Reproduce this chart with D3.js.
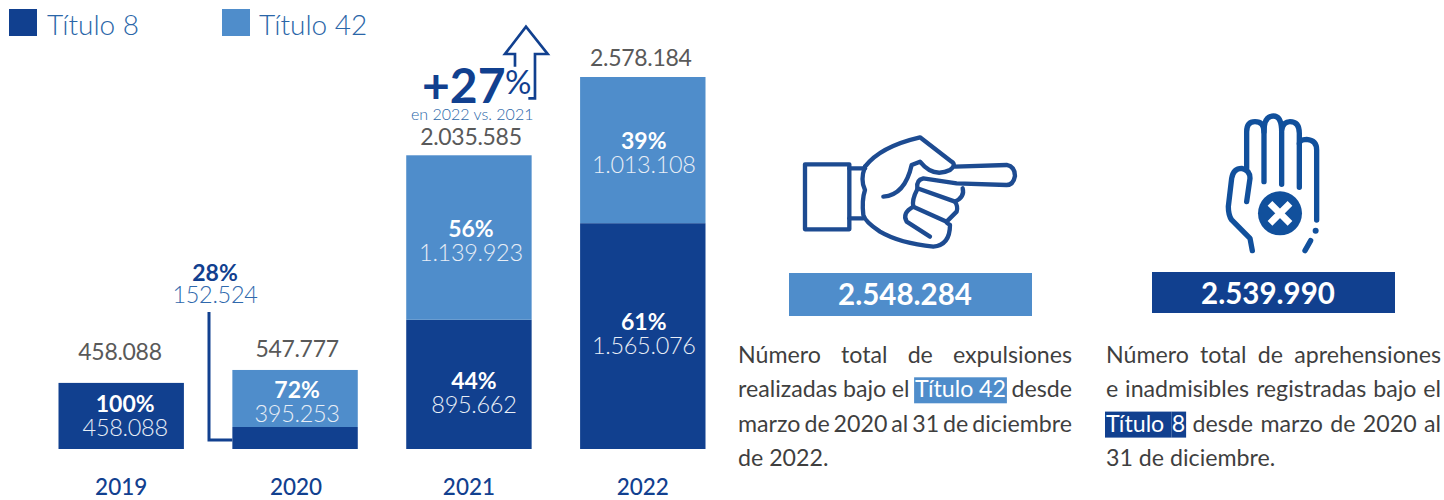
<!DOCTYPE html>
<html><head><meta charset="utf-8">
<script src="https://cdn.jsdelivr.net/npm/d3@7/dist/d3.min.js"></script>
<style>html,body{margin:0;padding:0;background:#fff}svg{display:block}text{font-family:Lato,"Open Sans",sans-serif}</style>
</head><body><svg id="c" width="1444" height="500"></svg>
<script>
const years=["2019","2020","2021","2022"];
const titulo8=[458088,152524,895662,1565076];
const titulo42=[0,395253,1139923,1013108];
const totals=[458088,547777,2035585,2578184];
const pct8=["100%","28%","44%","61%"];
const pct42=["","72%","56%","39%"];
const legendNames=["Título 8","Título 42"];
const label8Shift=[-1,0,8,-3];
const label42Shift=[0,3,2,2];
const label8Dx=[4,0,5,1];
const label42Dx=[0,2,2,1];
const totalLift=[23,13,10,11];
const totalDx=[0,2,2,-2];
const DARK="#11408f",LIGHT="#4f8dcb",GREY="#595959";
const fmt=v=>String(v).replace(/\B(?=(\d{3})+$)/g,".");
const svg=d3.select("#c");
const x=d3.scaleBand().domain(years).range([58.5,705.5]).paddingInner(0.2787).paddingOuter(0);
const y=d3.scaleLinear().domain([0,2578184]).range([449,77]);
const T=(sel,o)=>sel.append("text").text(o.t).attr("x",o.x).attr("y",o.y).attr("font-size",o.s).attr("fill",o.c||GREY).attr("font-weight",o.w||400).attr("text-anchor",o.a||"middle").attr("letter-spacing",o.ls||0);

// legend
[[9,47,DARK],[222,259,LIGHT]].forEach((l,i)=>{
  svg.append("rect").attr("x",l[0]).attr("y",9).attr("width",28).attr("height",27).attr("fill",l[2]);
  T(svg,{t:legendNames[i],x:l[1],y:35,s:28,c:"#2a66a8",w:300,a:"start"});
});
// connector
svg.append("path").attr("d",`M209,312V${(y(0)+y(titulo8[1]))/2+2}H${x("2020")}`).attr("fill","none").attr("stroke",DARK).attr("stroke-width",3);
// bars
const bw=x.bandwidth();
years.forEach((yr,i)=>{
  const X=x(yr);
  svg.append("rect").attr("x",X).attr("y",y(titulo8[i])).attr("width",bw).attr("height",y(0)-y(titulo8[i])).attr("fill",DARK);
  if(titulo42[i]) svg.append("rect").attr("x",X).attr("y",y(titulo8[i]+titulo42[i])).attr("width",bw).attr("height",y(titulo8[i])-y(titulo8[i]+titulo42[i])).attr("fill",LIGHT);
  const cx=X+bw/2;
  T(svg,{t:fmt(totals[i]),x:(i==0?120:cx+totalDx[i]),y:y(totals[i])-totalLift[i],s:23,ls:-0.3});
  T(svg,{t:yr,x:cx+(i==1?1:0),y:495,s:22.5,c:DARK,w:500});
  if(i!==1){
    const m=(y(0)+y(titulo8[i]))/2+label8Shift[i];
    T(svg,{t:pct8[i],x:cx+label8Dx[i],y:m-3,s:23,c:"#fff",w:700});
    T(svg,{t:fmt(titulo8[i]),x:cx+label8Dx[i],y:m+21,s:23.5,c:"#e8eef6",w:300,ls:-0.3});
  }
  if(titulo42[i]){
    const m=(y(titulo8[i])+y(titulo8[i]+titulo42[i]))/2+label42Shift[i];
    T(svg,{t:pct42[i],x:cx+label42Dx[i],y:m-3,s:23,c:"#fff",w:700});
    T(svg,{t:fmt(titulo42[i]),x:cx+label42Dx[i],y:m+21,s:23.5,c:"#e8eef6",w:300,ls:-0.3});
  }
});
T(svg,{t:pct8[1],x:215,y:281,s:23,c:DARK,w:700});
T(svg,{t:fmt(titulo8[1]),x:215,y:303,s:23.5,c:"#2f69ad",w:300,ls:-0.3});

// +27% callout
svg.append("path").attr("transform","translate(400,15) scale(.3333)").attr("d","M345,155V117H315L378,35L443,117H405V250H385").attr("fill","none").attr("stroke",DARK).attr("stroke-width",8);
T(svg,{t:"+27",x:422,y:103,s:48,c:DARK,w:700,a:"start"});
T(svg,{t:"%",x:505,y:94,s:33,c:DARK,w:400,a:"start"});
T(svg,{t:"en 2022 vs. 2021",x:411,y:120,s:16,c:"#2a66a8",w:300,a:"start"});

// pointing hand icon
const hand=svg.append("g").attr("transform","translate(780,100) scale(.3333)").attr("fill","none").attr("stroke","#1d4b91").attr("stroke-width",13).attr("stroke-linecap","round").attr("stroke-linejoin","round");
["M75,193H208V388H75Z","M208,205H255","M208,355H250",
"M255,200Q300,140 420,112L515,185Q530,195 510,210Q460,235 420,185L395,195Q375,285 310,290",
"M525,200L680,195Q705,200 705,228Q700,255 680,255L530,250L430,235Q408,240 412,265L525,305Q555,290 548,265",
"M255,200Q240,240 255,270Q245,300 250,345Q255,365 300,395Q360,430 460,440Q510,435 510,375Q498,368 500,365L400,320Q395,300 412,268",
"M525,305Q535,320 530,335L500,365","M400,320Q365,340 380,365L450,410"
].forEach(d=>hand.append("path").attr("d",d));

// stop hand icon
const stop=svg.append("g").attr("transform","translate(1200,100) scale(.3333)").attr("fill","none").attr("stroke","#11509c").attr("stroke-width",16).attr("stroke-linecap","round").attr("stroke-linejoin","round");
["M157,452L150,415L95,360Q85,345 85,320L95,235Q100,205 125,205Q150,210 150,235L140,305",
"M140,205V95Q140,65 165,65Q192,65 192,95V245","M192,95Q192,48 220,48Q245,48 245,95V253",
"M245,90Q250,65 270,65Q298,65 298,100V262","M298,130Q300,118 320,118Q350,120 350,150V360","M315,452L332,422"
].forEach(d=>stop.append("path").attr("d",d));
stop.append("circle").attr("cx",347).attr("cy",392).attr("r",9).attr("fill","#11509c").attr("stroke","none");
stop.append("circle").attr("cx",240).attr("cy",340).attr("r",66).attr("fill","#11509c").attr("stroke","none");
stop.append("path").attr("d","M210,310L270,370M270,310L210,370").attr("stroke","#fff").attr("stroke-width",20).attr("stroke-linecap","butt");

// stat boxes
[[789,273,243,43,LIGHT,"2.548.284",905,305],[1152,272,243,41,DARK,"2.539.990",1268,304]].forEach(b=>{
  svg.append("rect").attr("x",b[0]).attr("y",b[1]).attr("width",b[2]).attr("height",b[3]).attr("fill",b[4]);
  T(svg,{t:b[5],x:b[6],y:b[7],s:29.5,c:"#fff",w:700});
});

// justified paragraphs
const FS=23.2;
function para(x0,x1,base,lh,lines,hlColor){
  lines.forEach((ln,i)=>{
    const Y=base+i*lh;
    const tokens=ln.t.split(" ");
    const measure=s=>{const t=svg.append("text").attr("font-size",FS).text(s);const w=t.node().getComputedTextLength();t.remove();return w;};
    const widths=tokens.map(measure),space=measure("a b")-measure("ab");
    const sum=d3.sum(widths);
    const gap=ln.j?(x1-x0-sum)/(tokens.length-1):space;
    let cur=x0;
    tokens.forEach((w,k)=>{
      const hl=ln.h&&k>=ln.h[0]&&k<=ln.h[1];
      if(hl){
        const wid=k<ln.h[1]?widths[k]+gap:widths[k];
        svg.append("rect").attr("x",cur-(k==ln.h[0]?1:0)).attr("y",Y-20).attr("width",wid+(k==ln.h[0]?1:0)+(k==ln.h[1]?1:0)).attr("height",26).attr("fill",hlColor);
      }
      svg.append("text").attr("x",cur).attr("y",Y).attr("font-size",FS).attr("fill",hl?"#fff":"#3f3f3f").text(w);
      cur+=widths[k]+gap;
    });
  });
}
para(738,1072,363,34.3,[
 {t:"Número total de expulsiones",j:1},
 {t:"realizadas bajo el Título 42 desde",j:1,h:[3,4]},
 {t:"marzo de 2020 al 31 de diciembre",j:1},
 {t:"de 2022."}],LIGHT);
para(1106,1441,363,34.3,[
 {t:"Número total de aprehensiones",j:1},
 {t:"e inadmisibles registradas bajo el",j:1},
 {t:"Título 8 desde marzo de 2020 al",j:1,h:[0,1]},
 {t:"31 de diciembre."}],DARK);
</script></body></html>
